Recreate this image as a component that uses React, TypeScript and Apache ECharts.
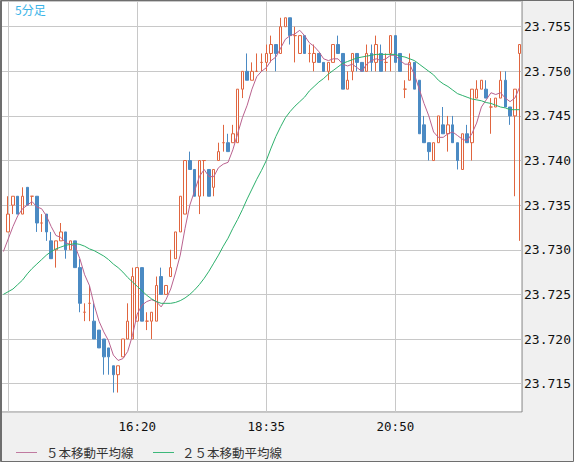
import React, { useEffect, useRef } from "react";
import * as echarts from "echarts";

const categories = [
  "14:00","14:05","14:10","14:15","14:20","14:25","14:30","14:35","14:40","14:45","14:50","14:55",
  "15:00","15:05","15:10","15:15","15:20","15:25","15:30","15:35","15:40","15:45","15:50","15:55",
  "16:00","16:05","16:10","16:15","16:20","16:25","16:30","16:35","16:40","16:45","16:50","16:55",
  "17:00","17:05","17:10","17:15","17:20","17:25","17:30","17:35","17:40","17:45","17:50","17:55",
  "18:00","18:05","18:10","18:15","18:20","18:25","18:30","18:35","18:40","18:45","18:50","18:55",
  "19:00","19:05","19:10","19:15","19:20","19:25","19:30","19:35","19:40","19:45","19:50","19:55",
  "20:00","20:05","20:10","20:15","20:20","20:25","20:30","20:35","20:40","20:45","20:50","20:55",
  "21:00","21:05","21:10","21:15","21:20","21:25","21:30","21:35","21:40","21:45","21:50","21:55",
  "22:00","22:05","22:10","22:15","22:20","22:25","22:30","22:35","22:40","22:45","22:50","22:55",
  "23:00",
];

// candles from 14:05 to 23:00 (the 14:00 slot has no visible candle)
const opens = [
  23.732,23.735,23.736,23.734,23.737,23.736,23.736,23.733,23.734,23.731,
  23.730,23.731,23.732,23.730,23.731,23.728,23.723,23.724,23.722,23.721,
  23.720,23.719,23.717,23.716,23.718,23.720,23.720,23.722,23.728,23.722,
  23.722,23.722,23.727,23.725,23.727,23.729,23.732,23.734,23.740,23.739,
  23.736,23.740,23.739,23.737,23.740,23.742,23.742,23.742,23.742,23.748,
  23.750,23.749,23.750,23.751,23.751,23.752,23.753,23.752,23.755,23.756,
  23.754,23.752,23.754,23.752,23.751,23.752,23.751,23.750,23.751,23.753,
  23.752,23.748,23.750,23.752,23.751,23.750,23.752,23.751,23.752,23.751,
  23.752,23.754,23.752,23.748,23.749,23.751,23.749,23.744,23.742,23.740,
  23.742,23.744,23.743,23.744,23.742,23.739,23.743,23.742,23.747,23.748,
  23.748,23.746,23.746,23.747,23.749,23.746,23.745,23.752,
];
const closes = [
  23.734,23.736,23.734,23.736,23.735,23.736,23.733,23.733,23.732,23.729,
  23.731,23.732,23.730,23.731,23.728,23.724,23.723,23.724,23.720,23.719,
  23.718,23.718,23.716,23.717,23.720,23.722,23.727,23.728,23.722,23.722,
  23.723,23.726,23.725,23.726,23.728,23.732,23.736,23.740,23.739,23.736,
  23.740,23.740,23.736,23.739,23.741,23.742,23.741,23.743,23.748,23.750,
  23.749,23.750,23.750,23.751,23.752,23.753,23.752,23.755,23.756,23.754,
  23.754,23.754,23.752,23.752,23.752,23.751,23.750,23.751,23.753,23.752,
  23.748,23.749,23.752,23.751,23.750,23.752,23.751,23.753,23.750,23.751,
  23.754,23.751,23.750,23.748,23.751,23.748,23.743,23.742,23.741,23.742,
  23.745,23.743,23.744,23.742,23.740,23.743,23.742,23.748,23.748,23.749,
  23.747,23.746,23.747,23.749,23.746,23.745,23.748,23.753,
];
const lows = [
  23.732,23.734,23.734,23.734,23.735,23.735,23.732,23.732,23.731,23.729,
  23.728,23.731,23.729,23.730,23.728,23.723,23.722,23.722,23.720,23.719,
  23.716,23.716,23.714,23.714,23.718,23.720,23.720,23.722,23.722,23.721,
  23.720,23.722,23.725,23.725,23.727,23.729,23.732,23.734,23.739,23.736,
  23.734,23.736,23.736,23.736,23.740,23.741,23.741,23.742,23.742,23.747,
  23.749,23.749,23.750,23.750,23.750,23.751,23.750,23.752,23.755,23.753,
  23.751,23.752,23.752,23.751,23.750,23.751,23.750,23.749,23.751,23.752,
  23.748,23.748,23.749,23.750,23.750,23.750,23.750,23.750,23.750,23.750,
  23.750,23.751,23.750,23.747,23.749,23.748,23.743,23.742,23.740,23.740,
  23.742,23.743,23.741,23.742,23.739,23.739,23.742,23.740,23.747,23.748,
  23.747,23.743,23.746,23.747,23.746,23.744,23.736,23.731,
];
const highs = [
  23.736,23.736,23.736,23.737,23.737,23.736,23.736,23.734,23.734,23.732,
  23.731,23.733,23.732,23.731,23.731,23.729,23.724,23.726,23.724,23.721,
  23.720,23.719,23.717,23.717,23.720,23.724,23.728,23.728,23.728,23.723,
  23.723,23.727,23.728,23.726,23.730,23.732,23.736,23.740,23.741,23.739,
  23.740,23.740,23.739,23.739,23.742,23.744,23.743,23.744,23.748,23.750,
  23.752,23.751,23.752,23.752,23.753,23.754,23.753,23.756,23.756,23.756,
  23.755,23.754,23.754,23.753,23.753,23.752,23.751,23.751,23.753,23.754,
  23.752,23.750,23.752,23.752,23.751,23.753,23.753,23.754,23.753,23.752,
  23.754,23.754,23.752,23.749,23.752,23.751,23.749,23.745,23.742,23.742,
  23.745,23.746,23.745,23.745,23.742,23.743,23.744,23.748,23.749,23.749,
  23.749,23.747,23.747,23.750,23.750,23.746,23.748,23.753,
];

// moving averages, 14:00 to 23:00
const ma5 = [
  23.7298,
  23.7312,23.7326,23.7338,23.7346,23.7350,23.7354,23.7348,23.7346,23.7338,23.7326,
  23.7316,23.7314,23.7308,23.7306,23.7304,23.7290,23.7272,23.7260,23.7238,23.7220,
  23.7208,23.7198,23.7182,23.7176,23.7178,23.7186,23.7204,23.7228,23.7238,23.7242,
  23.7244,23.7242,23.7236,23.7244,23.7256,23.7274,23.7294,23.7324,23.7350,23.7366,
  23.7382,23.7390,23.7382,23.7382,23.7392,23.7396,23.7398,23.7412,23.7430,23.7448,
  23.7462,23.7480,23.7494,23.7500,23.7504,23.7512,23.7516,23.7526,23.7536,23.7540,
  23.7542,23.7546,23.7540,23.7532,23.7528,23.7522,23.7514,23.7512,23.7514,23.7514,
  23.7508,23.7506,23.7508,23.7504,23.7500,23.7508,23.7512,23.7514,23.7512,23.7514,
  23.7518,23.7518,23.7512,23.7508,23.7508,23.7496,23.7480,23.7464,23.7450,23.7432,
  23.7426,23.7426,23.7430,23.7432,23.7428,23.7424,23.7422,23.7430,23.7442,23.7460,
  23.7468,23.7476,23.7474,23.7476,23.7470,23.7466,23.7470,23.7482,
];
const ma25 = [
  23.7250,
  23.7253,23.7256,23.7261,23.7266,23.7273,23.7279,23.7284,23.7289,23.7294,23.7298,
  23.7301,23.7303,23.7305,23.7306,23.7307,23.7306,23.7304,23.7301,23.7299,23.7296,
  23.7293,23.7289,23.7284,23.7280,23.7275,23.7269,23.7264,23.7259,23.7254,23.7249,
  23.7245,23.7242,23.7240,23.7240,23.7240,23.7241,23.7243,23.7246,23.7250,23.7255,
  23.7261,23.7268,23.7276,23.7285,23.7294,23.7304,23.7313,23.7324,23.7334,23.7345,
  23.7357,23.7368,23.7379,23.7389,23.7400,23.7414,23.7427,23.7438,23.7448,23.7455,
  23.7461,23.7466,23.7471,23.7478,23.7483,23.7488,23.7492,23.7497,23.7501,23.7505,
  23.7509,23.7511,23.7513,23.7515,23.7516,23.7517,23.7518,23.7519,23.7519,23.7519,
  23.7519,23.7519,23.7517,23.7516,23.7514,23.7512,23.7508,23.7504,23.7500,23.7496,
  23.7490,23.7486,23.7483,23.7479,23.7475,23.7473,23.7471,23.7469,23.7468,23.7467,
  23.7465,23.7464,23.7462,23.7460,23.7459,23.7457,23.7457,23.7457,
];

const seriesNames = ["５本移動平均線", "２５本移動平均線"];
const chartTitle = "5分足";

export default function App() {
  const ref = useRef<HTMLDivElement>(null);

  useEffect(() => {
    if (!ref.current) return;
    const chart = echarts.init(ref.current, null, { renderer: "svg" });
    const UP = "#e0653f";
    const DOWN = "#4b8ac3";
    const PINK = "#b9628f";
    const GREEN = "#2db06c";

    const candleData: any[] = [["-", "-", "-", "-"]];
    opens.forEach((o, i) => {
      const v = [o, closes[i], lows[i], highs[i]];
      if (o === closes[i]) {
        candleData.push({ value: v, itemStyle: { color0: "#ffffff", borderColor0: UP } });
      } else {
        candleData.push(v);
      }
    });

    const gridIdx = (idx: number) => (idx - 1) % 27 === 0;
    const labelIdx = (idx: number) => idx > 1 && (idx - 1) % 27 === 0;

    chart.setOption({
      animation: false,
      backgroundColor: "#f0f0f0",
      grid: {
        left: 1,
        right: 51,
        top: 1,
        bottom: 50,
        show: true,
        backgroundColor: "#ffffff",
        borderColor: "#858585",
        borderWidth: 1,
      },
      xAxis: {
        type: "category",
        data: categories,
        boundaryGap: true,
        axisLine: { show: false },
        axisTick: { show: false, alignWithLabel: true, interval: gridIdx },
        splitLine: {
          show: true,
          interval: gridIdx,
          alignWithLabel: true,
          lineStyle: { color: "#c8c8c8", width: 1 },
        },
        axisLabel: {
          interval: labelIdx,
          margin: 8,
          color: "#111",
          fontFamily: "DejaVu Sans Mono",
          fontSize: 12.5,
        },
      },
      yAxis: {
        type: "value",
        position: "right",
        min: 23.71182,
        max: 23.75788,
        splitNumber: 9,
        axisLine: { show: false },
        axisTick: { show: false },
        splitLine: { show: true, lineStyle: { color: "#c8c8c8", width: 1 } },
        axisLabel: {
          margin: 2,
          color: "#111",
          fontFamily: "DejaVu Sans Mono",
          fontSize: 13,
          showMinLabel: false,
          showMaxLabel: false,
          formatter: (v: number) => v.toFixed(3),
        },
      },
      series: [
        {
          type: "candlestick",
          name: "candles",
          data: candleData,
          barWidth: 3,
          itemStyle: {
            color: "#ffffff",
            color0: DOWN,
            borderColor: UP,
            borderColor0: DOWN,
            borderWidth: 1,
          },
          z: 2,
        },
        {
          type: "line",
          name: seriesNames[0],
          data: ma5,
          showSymbol: false,
          symbol: "none",
          lineStyle: { color: PINK, width: 1 },
          z: 3,
        },
        {
          type: "line",
          name: seriesNames[1],
          data: ma25,
          showSymbol: false,
          symbol: "none",
          lineStyle: { color: GREEN, width: 1 },
          z: 3,
        },
      ],
      graphic: [
        {
          type: "text",
          left: 15,
          top: 3,
          z: 10,
          style: {
            text: chartTitle,
            fill: "#3ab4e8",
            font: '12px "Noto Sans CJK JP"',
          },
        },
        {
          type: "line",
          z: 10,
          shape: { x1: 16, y1: 452.5, x2: 37, y2: 452.5 },
          style: { stroke: "#c07aa0", lineWidth: 1 },
        },
        {
          type: "text",
          z: 10,
          x: 46,
          y: 452.5,
          style: {
            text: seriesNames[0],
            fill: "#333",
            font: '12.5px "Noto Sans CJK JP"',
            verticalAlign: "middle",
          },
        },
        {
          type: "line",
          z: 10,
          shape: { x1: 153, y1: 452.5, x2: 174, y2: 452.5 },
          style: { stroke: "#3cb87a", lineWidth: 1 },
        },
        {
          type: "text",
          z: 10,
          x: 182,
          y: 452.5,
          style: {
            text: seriesNames[1],
            fill: "#333",
            font: '12.5px "Noto Sans CJK JP"',
            verticalAlign: "middle",
          },
        },
        {
          type: "rect",
          z: 20,
          silent: true,
          shape: { x: 0.5, y: 0.5, width: 573, height: 461 },
          style: { fill: "none", stroke: "#6e6e6e", lineWidth: 1 },
        },
        {
          type: "line",
          z: 20,
          silent: true,
          shape: { x1: 1.5, y1: 0, x2: 1.5, y2: 462 },
          style: { stroke: "#6e6e6e", lineWidth: 1 },
        },
      ],
    });

    return () => {
      chart.dispose();
    };
  }, []);

  return (
    <div
      ref={ref}
      style={{ position: "fixed", left: 0, top: 0, width: 574, height: 462 }}
    />
  );
}
